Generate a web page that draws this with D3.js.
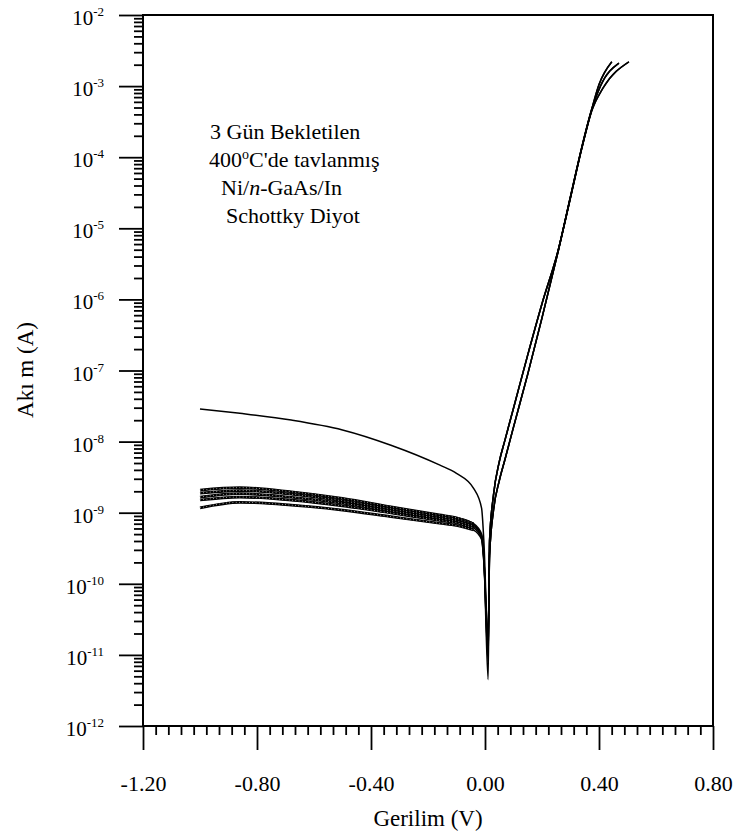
<!DOCTYPE html>
<html>
<head>
<meta charset="utf-8">
<script src="https://cdn.jsdelivr.net/npm/d3@7"></script>
<style>
  body { margin: 0; background: #fff; }
  text { font-family: "Liberation Serif", "Times New Roman", serif; fill: #000; }
</style>
</head>
<body>
<div id="chart"></div>
<script>
const width = 735;
const height = 838;

// reverse bias voltages (V), shared by all six diodes
const reverseVoltage = [-1.00, -0.86, -0.68, -0.50, -0.33, -0.16, -0.10, -0.04, -0.012, -0.004];
// one row per diode, first row is the leaky one
const reverseCurrent = [
  [2.88e-8, 2.50e-8, 2.01e-8, 1.46e-8, 8.9e-9, 4.7e-9, 3.58e-9, 2.2e-9, 1.16e-9, 4.0e-10],
  [2.08e-9, 2.25e-9, 1.97e-9, 1.59e-9, 1.21e-9, 9.3e-10, 8.5e-10, 7.0e-10, 5.0e-10, 2.4e-10],
  [1.89e-9, 2.05e-9, 1.82e-9, 1.47e-9, 1.13e-9, 8.8e-10, 8.0e-10, 6.7e-10, 4.8e-10, 2.3e-10],
  [1.66e-9, 1.85e-9, 1.65e-9, 1.36e-9, 1.06e-9, 8.3e-10, 7.6e-10, 6.4e-10, 4.6e-10, 2.2e-10],
  [1.51e-9, 1.66e-9, 1.50e-9, 1.25e-9, 9.9e-10, 7.8e-10, 7.2e-10, 6.1e-10, 4.4e-10, 2.1e-10],
  [1.17e-9, 1.40e-9, 1.28e-9, 1.09e-9, 8.8e-10, 7.1e-10, 6.6e-10, 5.7e-10, 4.2e-10, 2.0e-10]
];

// current minimum near zero bias
const dipVoltage = 0.011;
const dipCurrent = [1.5e-11, 4.5e-12, 8e-12, 1.2e-11, 2e-11, 1e-11];

// forward bias
const forwardVoltage = [0.016, 0.030, 0.050, 0.070, 0.100, 0.150, 0.200, 0.257, 0.300, 0.340, 0.374];
const forwardCurrent = [
  [4.0e-10, 1.8e-9, 5.2e-9, 1.05e-8, 2.95e-8, 1.66e-7, 8.7e-7, 4.95e-6, 2.8e-5, 1.4e-4, 4.7e-4],
  [4.0e-10, 1.8e-9, 5.2e-9, 1.05e-8, 2.95e-8, 1.66e-7, 8.7e-7, 4.95e-6, 2.8e-5, 1.4e-4, 4.7e-4],
  [4.0e-10, 1.8e-9, 5.2e-9, 1.05e-8, 2.95e-8, 1.66e-7, 8.7e-7, 4.95e-6, 2.8e-5, 1.4e-4, 4.5e-4],
  [2.5e-10, 1.1e-9, 2.8e-9, 5.6e-9, 1.6e-8, 8.9e-8, 5.5e-7, 4.8e-6, 2.7e-5, 1.35e-4, 4.6e-4],
  [2.5e-10, 1.1e-9, 2.8e-9, 5.6e-9, 1.6e-8, 8.9e-8, 5.5e-7, 4.8e-6, 2.7e-5, 1.35e-4, 4.5e-4],
  [2.5e-10, 1.1e-9, 2.8e-9, 5.6e-9, 1.6e-8, 8.9e-8, 5.5e-7, 4.8e-6, 2.7e-5, 1.35e-4, 4.4e-4]
];

// high current ends, where the curves fan out
const kneeVoltage = [0.405, 0.40, 0.415, 0.40, 0.405, 0.415];
const kneeCurrent = [1.0e-3, 1.05e-3, 9.5e-4, 1.05e-3, 1.0e-3, 9.5e-4];
const tipVoltage = [0.47, 0.445, 0.505, 0.445, 0.47, 0.505];
const tipCurrent = [2.1e-3, 2.2e-3, 2.2e-3, 2.2e-3, 2.1e-3, 2.2e-3];

const xMajor = [-1.2, -0.8, -0.4, 0.0, 0.4, 0.8];
const yExponents = d3.range(-12, -1);

const plot = { left: 143, right: 713, top: 15, bottom: 726 };

const x = d3.scaleLinear().domain([-1.2, 0.8]).range([plot.left, plot.right]);
const y = d3.scaleLog().domain([1e-12, 1e-2]).range([plot.bottom, plot.top]);

const svg = d3.select("#chart")
  .append("svg")
  .attr("width", width)
  .attr("height", height)
  .attr("viewBox", [0, 0, width, height]);

// build the point list of every diode
const curves = reverseCurrent.map((row, k) => {
  const pts = reverseVoltage.map((v, j) => ({ v, i: row[j] }));
  pts.push({ v: dipVoltage, i: dipCurrent[k] });
  forwardVoltage.forEach((v, j) => pts.push({ v, i: forwardCurrent[k][j] }));
  pts.push({ v: kneeVoltage[k], i: kneeCurrent[k] });
  pts.push({ v: tipVoltage[k], i: tipCurrent[k] });
  return pts;
});

const line = d3.line()
  .x(d => x(d.v))
  .y(d => y(d.i))
  .curve(d3.curveMonotoneX);

// x axis: minor ticks (9 per major interval) and major ticks
const xMinor = [];
for (let k = 0; k < xMajor.length - 1; k++) {
  for (let m = 1; m < 9; m++) xMinor.push(xMajor[k] + (xMajor[k + 1] - xMajor[k]) * m / 9);
}

const xAxisMinor = svg.append("g")
  .attr("transform", `translate(0,${plot.bottom})`)
  .call(d3.axisBottom(x).tickValues(xMinor).tickSize(9).tickFormat(""));

const xAxis = svg.append("g")
  .attr("transform", `translate(0,${plot.bottom})`)
  .call(d3.axisBottom(x).tickValues(xMajor).tickSize(24).tickPadding(25)
    .tickFormat(d => d.toFixed(2)));

xAxis.selectAll("text")
  .attr("font-size", 22)
  .attr("font-family", "Liberation Serif, Times New Roman, serif");

// y axis: log minor and major ticks
const yMinor = [];
yExponents.slice(0, -1).forEach(e => {
  for (let m = 2; m < 10; m++) yMinor.push(m * Math.pow(10, e));
});

const yAxisMinor = svg.append("g")
  .attr("transform", `translate(${plot.left},0)`)
  .call(d3.axisLeft(y).tickValues(yMinor).tickSize(9).tickFormat(""));

const yAxis = svg.append("g")
  .attr("transform", `translate(${plot.left},0)`)
  .call(d3.axisLeft(y).tickValues(yExponents.map(e => Math.pow(10, e))).tickSize(24).tickFormat(""));

[xAxisMinor, xAxis, yAxisMinor, yAxis].forEach(g => {
  g.select(".domain").remove();
  g.selectAll("line").attr("stroke", "#000").attr("stroke-width", 1.8);
});

// power of ten labels
const yLabels = svg.append("g")
  .selectAll("text")
  .data(yExponents)
  .join("text")
  .attr("x", 104)
  .attr("y", e => y(Math.pow(10, e)) + 10)
  .attr("text-anchor", "end")
  .attr("font-size", 21);

yLabels.append("tspan").text("10");
yLabels.append("tspan")
  .attr("dy", -9)
  .attr("font-size", 13)
  .text(e => String(e));

// frame
svg.append("rect")
  .attr("x", plot.left)
  .attr("y", plot.top)
  .attr("width", plot.right - plot.left)
  .attr("height", plot.bottom - plot.top)
  .attr("fill", "none")
  .attr("stroke", "#000")
  .attr("stroke-width", 2);

// curves
const g = svg.append("g").attr("fill", "none").attr("stroke-linejoin", "round");

curves.forEach((pts, k) => {
  g.append("path")
    .attr("d", line(pts))
    .attr("stroke", "#000")
    .attr("stroke-width", 1.5);

  if (k > 0) {
    // the low leakage diodes were plotted with dense open markers
    const rev = pts.filter(d => d.v <= -0.04);
    g.append("path")
      .attr("d", line(rev))
      .attr("stroke", "#000")
      .attr("stroke-width", 2.7);
    g.append("path")
      .attr("d", line(rev))
      .attr("stroke", "#fff")
      .attr("stroke-width", 0.8)
      .attr("stroke-dasharray", "0.7 2.6");
  }
});

// axis titles
svg.append("text")
  .attr("x", 428)
  .attr("y", 826)
  .attr("text-anchor", "middle")
  .attr("font-size", 23)
  .text("Gerilim (V)");

svg.append("text")
  .attr("transform", "translate(33,370) rotate(-90)")
  .attr("text-anchor", "middle")
  .attr("font-size", 23)
  .text("Akı m (A)");

// annotation
const note = svg.append("g").attr("font-size", 22);

note.append("text").attr("x", 210).attr("y", 139).text("3 Gün Bekletilen");

const l2 = note.append("text").attr("x", 209).attr("y", 167);
l2.append("tspan").text("400");
l2.append("tspan").attr("dy", -8).attr("font-size", 14).text("o");
l2.append("tspan").attr("dy", 8).text("C'de tavlanmış");

const l3 = note.append("text").attr("x", 221).attr("y", 195);
l3.append("tspan").text("Ni/");
l3.append("tspan").attr("font-style", "italic").text("n");
l3.append("tspan").text("-GaAs/In");

note.append("text").attr("x", 226).attr("y", 223).text("Schottky Diyot");
</script>
</body>
</html>
